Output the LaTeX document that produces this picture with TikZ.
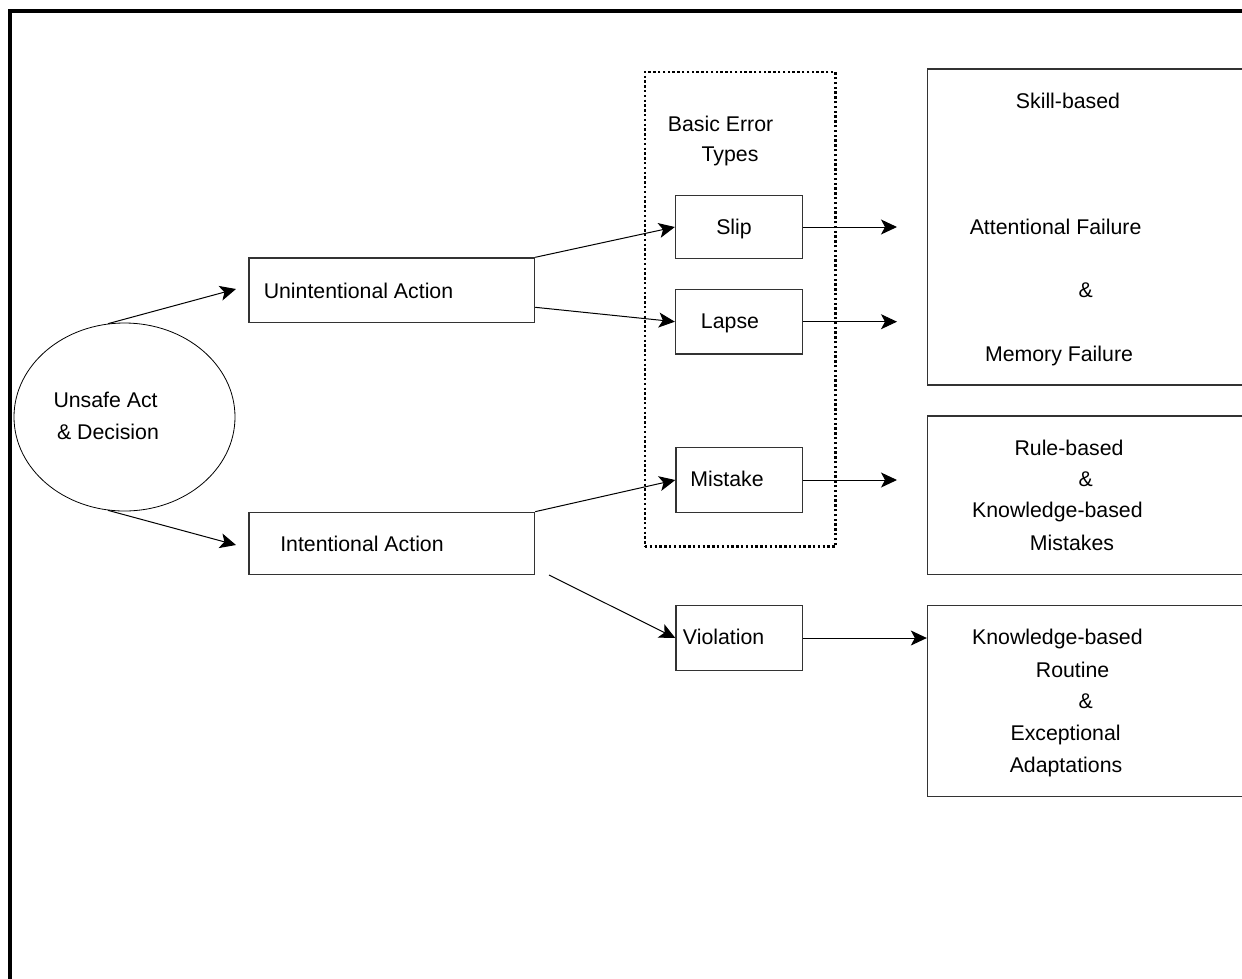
\documentclass[tikz,border=0pt]{standalone}
\usepackage{fontspec}
\setmainfont{Liberation Sans}
\usetikzlibrary{arrows.meta,shapes.geometric,calc}
\begin{document}
\begin{tikzpicture}[x=1pt,y=-1pt,
  lbl/.style={inner sep=0pt, text height=15pt, text depth=0pt, font=\fontsize{21.3}{25}\selectfont},
  box/.style={draw=black!80, line width=1.3pt, inner sep=0pt, rectangle},
  bigbox/.style={box, minimum width=372.5pt},
  arr/.style={-{Stealth[length=16pt,width=15pt,inset=4pt]}, line width=1pt, black}]
\useasboundingbox (0,0) rectangle (1242,978);
\clip (0,0) rectangle (1242,978);
\fill[white] (0,0) rectangle (1242,978);
% frame
\draw[line width=3.3pt, line join=miter] (10,1000) -- (10,11) -- (1260,11);
% dotted group
\node[draw, line width=2.4pt, dash pattern=on 2.4pt off 2.4pt, inner sep=0pt,
  minimum width=190.5pt, minimum height=474.5pt] (grp) at (740.2,309.2) {};
% ellipse
\node[ellipse, draw, line width=0.8pt, inner sep=0pt, minimum width=221pt, minimum height=188pt] (ell) at (124.5,417) {};
\node[lbl] (t1a) at (105.6,399.7) {Unsafe Act};
\node[lbl] (t1b) at (108,431.7) {\& Decision};
% action boxes
\node[box, minimum width=285.6pt, minimum height=64.7pt] (unint) at (391.8,290.3) {};
\node[lbl] (tu) at (358.5,290.7) {Unintentional Action};
\node[box, minimum width=285.6pt, minimum height=62pt] (int) at (391.8,543.3) {};
\node[lbl] (ti) at (362,543.7) {Intentional Action};
% error type boxes
\node[lbl] (tb1) at (720.6,124) {Basic Error};
\node[lbl] (tb2) at (730,154.4) {Types};
\node[box, minimum width=127pt, minimum height=62.6pt] (slip) at (739,227) {};
\node[lbl] (ts) at (734,227) {Slip};
\node[box, minimum width=127pt, minimum height=64.7pt] (lapse) at (739,321.7) {};
\node[lbl] (tl) at (730,320.7) {Lapse};
\node[box, minimum width=126.5pt, minimum height=64.6pt] (mistake) at (739.2,480) {};
\node[lbl] (tm) at (727,478.7) {Mistake};
\node[box, minimum width=126.5pt, minimum height=64.6pt] (viol) at (739.2,638) {};
\node[lbl] (tv) at (723.6,637.3) {Violation};
% right boxes
\node[bigbox, minimum height=316pt] (r1) at (1113.75,227) {};
\node[lbl] (r1a) at (1068,100.7) {Skill-based};
\node[lbl] (r1b) at (1055.6,227) {Attentional Failure};
\node[lbl] (r1c) at (1085.6,289.7) {\&};
\node[lbl] (r1d) at (1059,353.7) {Memory Failure};
\node[bigbox, minimum height=158.3pt] (r2) at (1113.75,495.2) {};
\node[lbl] (r2a) at (1069,448) {Rule-based};
\node[lbl] (r2b) at (1085.6,479.3) {\&};
\node[lbl] (r2c) at (1057.4,510) {Knowledge-based};
\node[lbl] (r2d) at (1072,543) {Mistakes};
\node[bigbox, minimum height=191pt] (r3) at (1113.75,701.2) {};
\node[lbl] (r3a) at (1057.4,637.3) {Knowledge-based};
\node[lbl] (r3b) at (1072.6,670.3) {Routine};
\node[lbl] (r3c) at (1085.6,701.3) {\&};
\node[lbl] (r3d) at (1065.6,733.3) {Exceptional};
\node[lbl] (r3e) at (1066,764.7) {Adaptations};
% free ends
\coordinate (a1) at (236,289);
\coordinate (a2) at (236,545);
\coordinate (v0) at (549,575);
\coordinate (s1) at (897,227);
\coordinate (l1) at (897,321.7);
\coordinate (m1) at (897,480);
% connectors
\draw[arr] (ell.100) -- (a1);
\draw[arr] (ell.260) -- (a2);
\draw[arr] (unint.north east) -- (slip.west);
\draw[arr] ($(unint.south east)+(0,-16)$) -- (lapse.west);
\draw[arr] (int.north east) -- (mistake.west);
\draw[arr] (v0) -- (viol.west);
\draw[arr] (slip.east) -- (s1);
\draw[arr] (lapse.east) -- (l1);
\draw[arr] (mistake.east) -- (m1);
\draw[arr] (viol.east) -- (viol.east -| r3.west);
\end{tikzpicture}
\end{document}
